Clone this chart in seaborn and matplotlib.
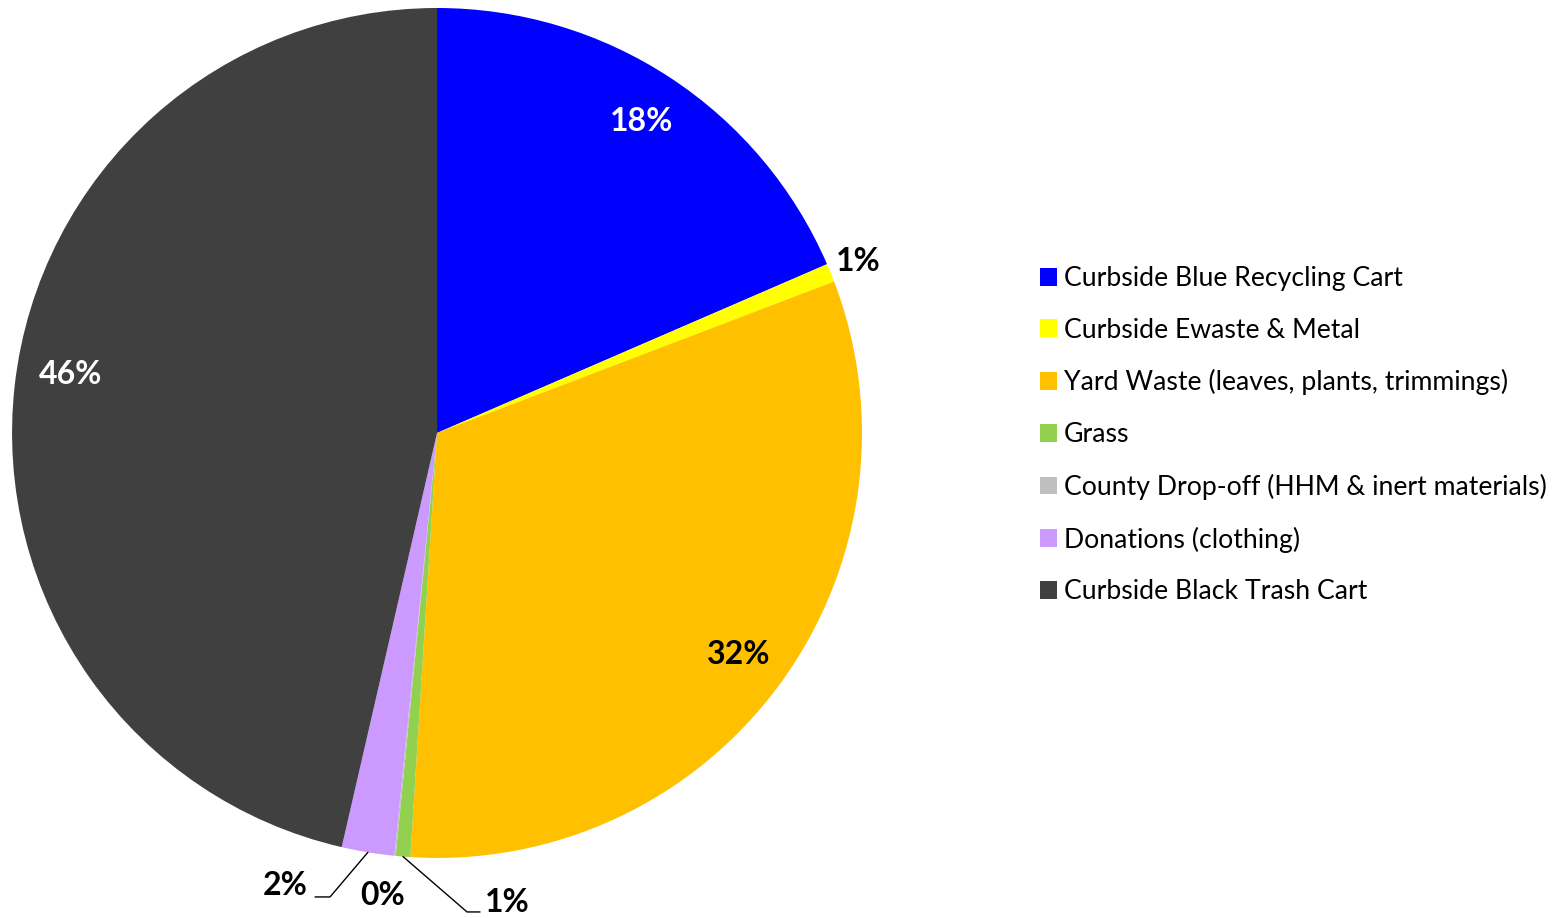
import numpy as np
import seaborn as sns
import matplotlib.pyplot as plt

categories = ["Curbside Blue Recycling Cart", "Curbside Ewaste & Metal",
              "Yard Waste (leaves, plants, trimmings)", "Grass",
              "County Drop-off (HHM & inert materials)", "Donations (clothing)",
              "Curbside Black Trash Cart"]
shares = [18.5, 0.7, 31.8, 0.55, 0.05, 2.0, 46.4]
pct_labels = ["18%", "1%", "32%", "1%", "0%", "2%", "46%"]
colors = ["#0000FF", "#FFFF00", "#FFC000", "#92D050", "#BFBFBF", "#CC99FF", "#404040"]

sns.set_style("white")
plt.rcParams['font.family'] = ['Lato', 'DejaVu Sans']
plt.rcParams['text.color'] = 'black'

fig = plt.figure(figsize=(15.65, 9.18), dpi=100)
ax = fig.add_axes([0.0077, 0.0654, 0.5431, 0.9259])
wedges, _ = ax.pie(shares, colors=colors, startangle=90, counterclock=False,
                   radius=1.0, wedgeprops=dict(linewidth=0))
ax.set_xlim(-1, 1)
ax.set_ylim(-1, 1)
ax.set_aspect('equal')
ax.axis('off')

fs = 23

# pixel position in the reference -> data coords of the pie axes
def px(x, y):
    return ((x - 437) / 425, (433 - y) / 425)

mids = [np.deg2rad((w.theta1 + w.theta2) / 2) for w in wedges]
inside = {0: (0.877, 'white'), 1: (1.07, 'black'), 2: (0.88, 'black')}
for i, (r, c) in inside.items():
    ax.text(r * np.cos(mids[i]), r * np.sin(mids[i]), pct_labels[i], color=c,
            fontsize=fs, fontweight='bold', ha='center', va='center')
ax.text(*px(71, 375), pct_labels[6], color='white', fontsize=fs, fontweight='bold',
        ha='center', va='center')

# small bottom slices with leader lines
ax.text(*px(285, 886), pct_labels[5], fontsize=fs, fontweight='bold', ha='center', va='center')
ax.text(*px(383, 896), pct_labels[4], fontsize=fs, fontweight='bold', ha='center', va='center')
ax.text(*px(507, 903), pct_labels[3], fontsize=fs, fontweight='bold', ha='center', va='center')

for m, pts in [(mids[5], [(315, 897), (330, 897)]), (mids[3], [(480, 912), (467, 912)])]:
    xs = [px(*p)[0] for p in pts] + [np.cos(m)]
    ys = [px(*p)[1] for p in pts] + [np.sin(m)]
    ax.plot(xs, ys, color='black', lw=1.0, clip_on=False)

fig.legend(wedges, categories, loc='center left', bbox_to_anchor=(0.6645, 0.526),
           frameon=False, fontsize=19.2, handlelength=0.65, handleheight=0.65,
           handletextpad=0.25, labelspacing=1.0, borderpad=0, borderaxespad=0)

fig.savefig("out.png", dpi=100)
